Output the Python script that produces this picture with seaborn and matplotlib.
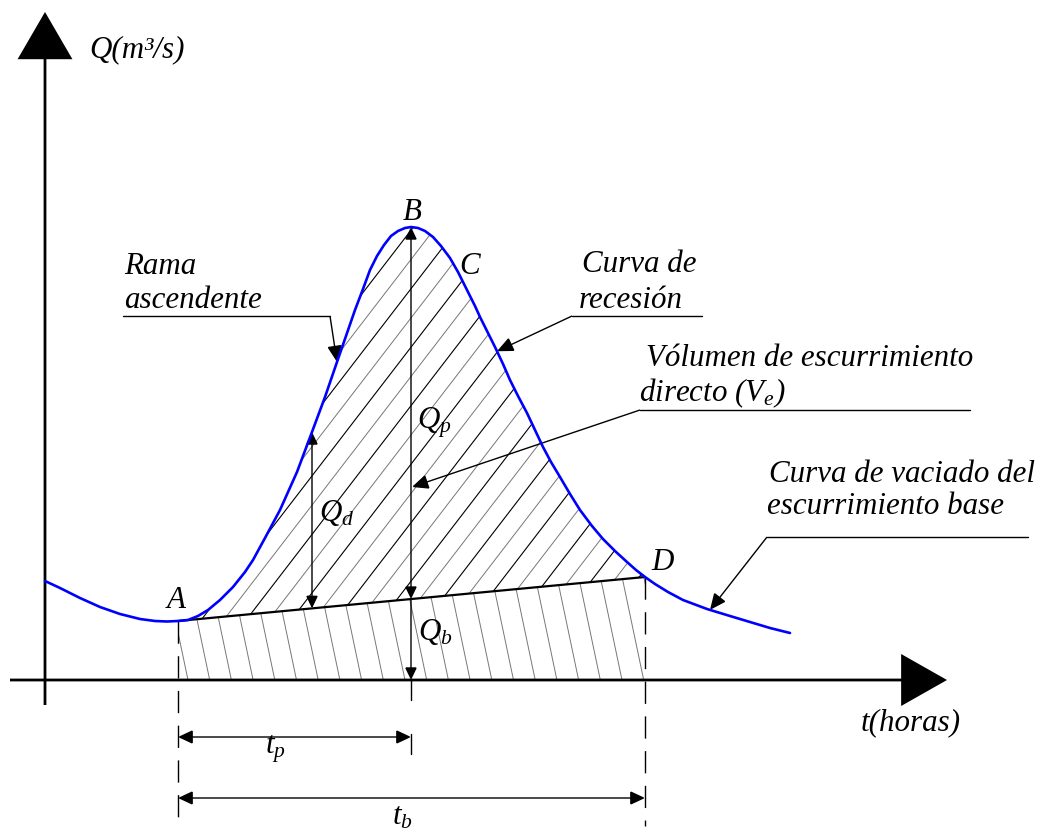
import numpy as np
import matplotlib
matplotlib.use("Agg")
import matplotlib.pyplot as plt
from matplotlib.patches import FancyArrowPatch, Polygon, ArrowStyle
import seaborn as sns
import pandas as pd

# ---------------- data (t: time units, Q: discharge units) ----------------
hydro_t = [0.0, 1.5, 3.5, 5.5, 7.5, 9.5, 11.0, 12.2, 13.3,
           14.3, 15.3, 16.3, 17.5, 18.8, 20.0, 20.8, 22.0, 23.5, 25.2, 26.7,
           28.0, 29.2, 30.1, 31.0, 31.8, 32.5, 33.2, 33.9, 34.6, 35.3, 36.0,
           36.6, 37.3, 38.0, 38.8, 39.6, 40.5, 41.3, 42.2, 43.0, 43.5, 44.3,
           45.0, 45.8, 46.5, 47.3, 48.2, 49.0, 49.8, 50.6, 51.5, 52.5, 53.5,
           54.7, 55.8, 57.0, 58.2, 59.1, 60.0, 61.0, 62.3, 63.8, 66.2, 68.5,
           70.5, 72.5, 74.5]
hydro_q = [9.9, 9.2, 8.2, 7.3, 6.6, 6.1, 5.9, 5.85, 5.9,
           6.0, 6.4, 7.0, 8.0, 9.3, 10.8, 12.0, 14.2, 17.0, 20.8, 24.8,
           28.3, 31.8, 34.4, 37.0, 39.1, 41.0, 42.4, 43.5, 44.4, 44.9, 45.2,
           45.3, 45.2, 44.9, 44.3, 43.4, 42.2, 40.8, 39.0, 37.4, 36.3, 34.7,
           33.3, 31.6, 30.0, 28.4, 26.7, 25.0, 23.3, 21.8, 20.3, 18.6, 17.0,
           15.4, 14.1, 12.9, 11.8, 11.0, 10.3, 9.6, 8.8, 8.0, 7.1, 6.4,
           5.8, 5.2, 4.7]
t_A, t_B, t_D = 13.3, 36.6, 60.0         # start, peak, end of direct runoff
t_qd = 26.7                              # time where Q_d is illustrated
point_names = ["A", "B", "C", "D"]

label_qaxis = "Q(m³/s)"
label_taxis = "t(horas)"
label_rama = ["Rama", "ascendente"]
label_recesion = ["Curva de", "recesión"]
label_volumen = ["Vólumen de escurrimiento", "directo ($V_e$)"]
label_vaciado = ["Curva de vaciado del", "escurrimiento base"]

# ---------------- style ----------------
sns.set_theme(style="white")
plt.rcParams["font.family"] = ["Liberation Serif", "DejaVu Serif"]
plt.rcParams["font.style"] = "italic"
plt.rcParams["mathtext.fontset"] = "custom"
plt.rcParams["mathtext.it"] = "Liberation Serif:italic"
plt.rcParams["mathtext.rm"] = "Liberation Serif:italic"
FS = 22.3

fig = plt.figure(figsize=(10.39, 8.33), dpi=100)
ax = fig.add_axes([0, 0, 1, 1])
ax.set_xlim(-4.5, 99.4)
ax.set_ylim(-15.3, 68.0)
ax.axis("off")

t = np.array(hydro_t)
q = np.array(hydro_q)
idx_A, idx_B, idx_D = hydro_t.index(t_A), hydro_t.index(t_B), hydro_t.index(t_D)
tA, qA = t[idx_A], q[idx_A]
tB, qB = t[idx_B], q[idx_B]
tD, qD = t[idx_D], q[idx_D]


def base(tt):
    return qA + (qD - qA) * (tt - tA) / (tD - tA)


def curve(tt):
    return float(np.interp(tt, t, q))


def arrow(p0, p1, style="-|>", hl=7.5, hw=3.6, lw=1.0, color="black", z=5):
    st = ArrowStyle(style, head_length=hl, head_width=hw)
    a = FancyArrowPatch(p0, p1, arrowstyle=st, mutation_scale=1, lw=lw,
                        color=color, shrinkA=0, shrinkB=0, zorder=z,
                        joinstyle="miter", capstyle="butt")
    ax.add_patch(a)


# ---------------- hatched areas ----------------
top_poly = list(zip(t[idx_A:idx_D + 1], q[idx_A:idx_D + 1])) + [(tA, qA)]
top_patch = Polygon(top_poly, closed=True, fill=False, lw=0)
ax.add_patch(top_patch)
for i, c in enumerate(np.arange(-25, 62, 2.25)):
    xs = np.array([c, c + 40])
    ys = 1.3 * (xs - c)
    ln, = ax.plot(xs, ys, color="black" if i % 2 == 0 else "#777777",
                  lw=0.8 if i % 2 == 0 else 0.7, zorder=1)
    ln.set_clip_path(top_patch)

bot_poly = [(tA, qA), (tD, qD), (tD, 0), (tA, 0)]
bot_patch = Polygon(bot_poly, closed=True, fill=False, lw=0)
ax.add_patch(bot_patch)
for c in np.arange(tA + 1.0, tD + 4, 2.17):
    ys = np.array([0, 15])
    xs = c - 0.21 * ys
    ln, = ax.plot(xs, ys, color="#777777", lw=0.7, zorder=1)
    ln.set_clip_path(bot_patch)

# ---------------- hydrograph & baseline ----------------
df = pd.DataFrame({"t": t, "Q": q})
sns.lineplot(data=df, x="t", y="Q", ax=ax, color="#0000FF", lw=1.9,
             sort=False, zorder=6)
ax.plot([tA, tD], [qA, qD], color="black", lw=1.6, zorder=4)

# ---------------- axes arrows ----------------
arrow((0, -2.5), (0, 66.8), hl=31, hw=18, lw=2.0)
arrow((-3.5, 0), (90.2, 0), hl=30, hw=17, lw=2.0)

# ---------------- verticals ----------------
for tv, qv in [(tA, qA), (tD, qD)]:
    ax.plot([tv, tv], [qv, -14.6], color="black", lw=1.0,
            dashes=(16, 9), zorder=3)
ax.plot([tB, tB], [0, -2.0], color="black", lw=1.0, zorder=3)
arrow((tB, base(tB)), (tB, qB), style="<|-|>")
arrow((tB, base(tB)), (tB, 0))
arrow((t_qd, base(t_qd)), (t_qd, curve(t_qd)), style="<|-|>")

# dimension lines
y_tp, y_tb = -5.7, -11.8
arrow((tA, y_tp), (tB, y_tp), style="<|-|>", hl=9, hw=4.2)
ax.plot([tB, tB], [-5.4, -7.4], color="black", lw=1.0)
arrow((tA, y_tb), (tD, y_tb), style="<|-|>", hl=9, hw=4.2)

# ---------------- labels ----------------
tk = dict(fontsize=FS, color="black", fontstyle="italic")
ax.text(4.4, 63.0, label_qaxis, ha="left", va="center", **tk)
ax.text(81.6, -4.3, label_taxis, ha="left", va="center", **tk)
ax.text(13.1, 8.0, point_names[0], ha="center", va="center", **tk)
ax.text(36.7, 46.8, point_names[1], ha="center", va="center", **tk)
ax.text(42.5, 41.3, point_names[2], ha="center", va="center", **tk)
ax.text(61.8, 11.8, point_names[3], ha="center", va="center", **tk)
ax.text(37.2, 25.7, r"$Q_p$", ha="left", va="center", **tk)
ax.text(27.4, 16.7, r"$Q_d$", ha="left", va="center", **tk)
ax.text(37.3, 4.8, r"$Q_b$", ha="left", va="center", **tk)
ax.text(23.0, -6.9, r"$t_p$", ha="center", va="center", **tk)
ax.text(35.7, -13.7, r"$t_b$", ha="center", va="center", **tk)


def callout(lines, x, y0, dy, ul_y, ul_x0, ul_x1, tip, start_left=True):
    for k, s in enumerate(lines):
        ax.text(x[k], y0 - k * dy, s, ha="left", va="center", **tk)
    ax.plot([ul_x0, ul_x1], [ul_y, ul_y], color="black", lw=1.0)
    sx = ul_x1 if not start_left else ul_x0
    arrow((sx, ul_y), tip, hl=10, hw=4.5)


callout(label_rama, [7.9, 7.9], 41.3, 3.4, 36.4, 7.8, 28.5,
        (29.2, curve(29.2)), start_left=False)
callout(label_recesion, [53.7, 53.4], 41.6, 3.6, 36.4, 52.7, 65.7,
        (45.2, curve(45.2)))
callout(label_volumen, [60.1, 59.4], 32.2, 3.5, 27.0, 59.5, 92.5,
        (tB + 0.1, 19.3))
callout(label_vaciado, [72.4, 72.2], 20.5, 3.2, 14.3, 72.2, 98.3,
        (66.5, curve(66.5)))

fig.savefig("out.png", dpi=100, facecolor="white")
